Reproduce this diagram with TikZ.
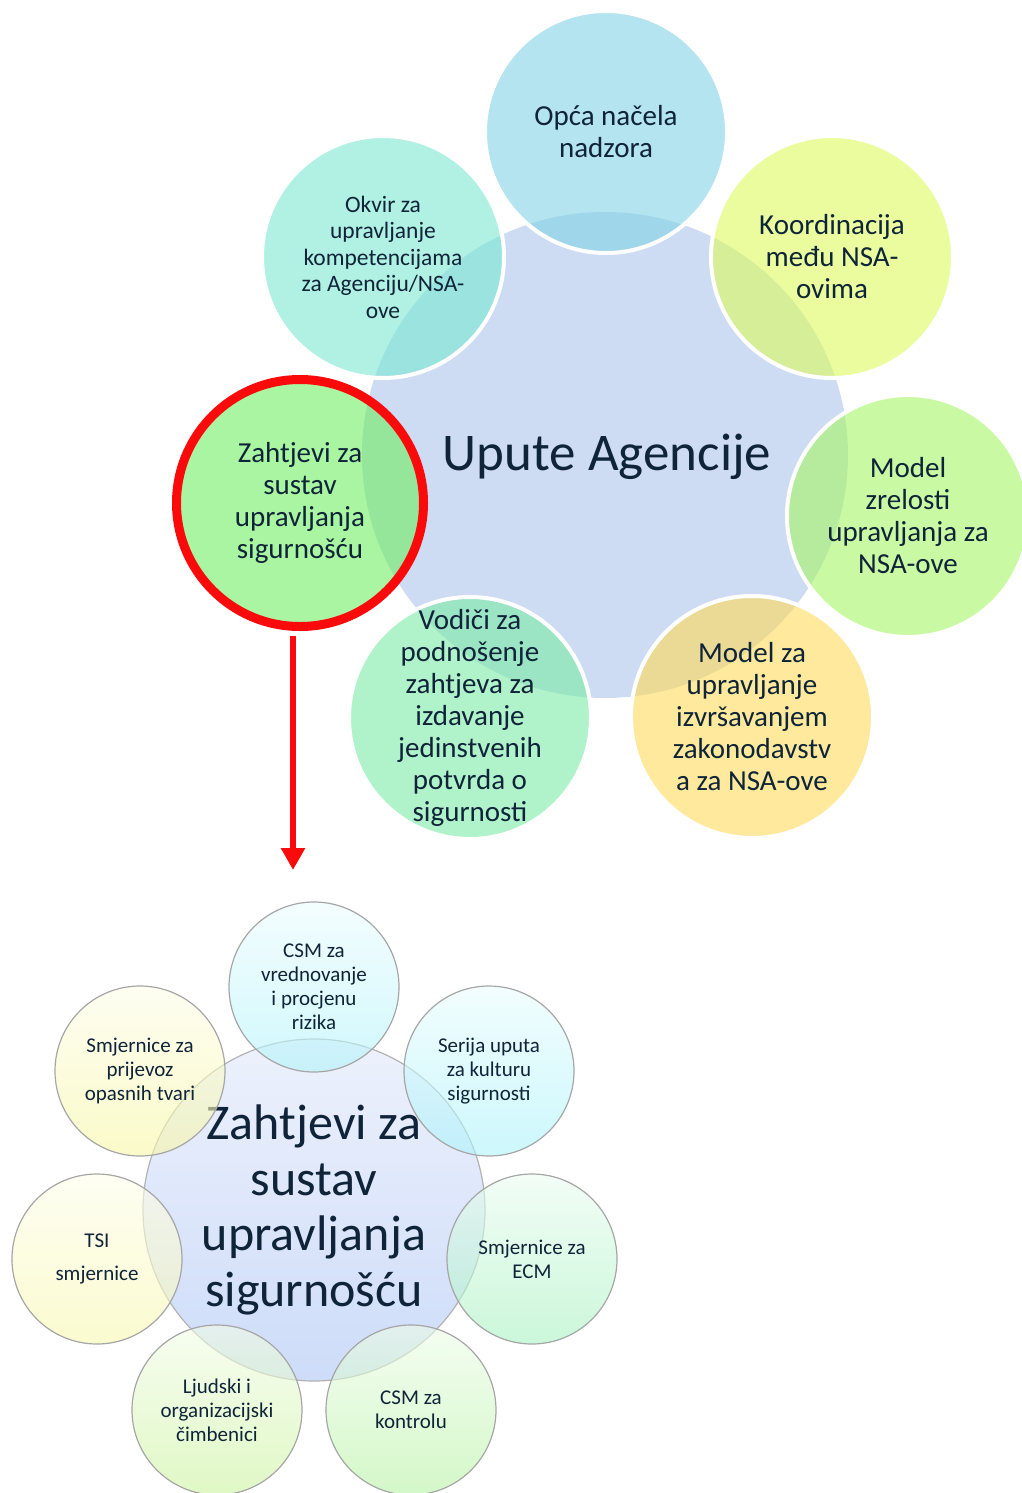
\documentclass[tikz,border=0pt]{standalone}
\usepackage{fontspec}
\setmainfont{Carlito}
\usetikzlibrary{arrows.meta}
\definecolor{txt}{HTML}{0F2438}
\definecolor{cMain}{HTML}{CDDCF2}
\definecolor{cOpca}{RGB}{130,210,230}
\definecolor{cKoord}{RGB}{222,250,93}
\definecolor{cZrel}{RGB}{167,245,103}
\definecolor{cIzvr}{RGB}{255,218,90}
\definecolor{cVod}{RGB}{123,235,167}
\definecolor{cZah}{RGB}{112,238,98}
\definecolor{cOkvir}{RGB}{123,232,210}
\definecolor{cRed}{HTML}{FA0A0A}
\definecolor{bTop}{HTML}{EDF1FC}
\definecolor{bBot}{HTML}{CDDCF9}
\definecolor{bCsm}{RGB}{177,243,250}
\definecolor{bSer}{RGB}{170,243,250}
\definecolor{bEcm}{RGB}{168,242,193}
\definecolor{bKon}{RGB}{182,243,163}
\definecolor{bLju}{RGB}{203,243,158}
\definecolor{bTsi}{RGB}{248,248,175}
\definecolor{bPri}{RGB}{247,247,165}
\tikzset{
  petal/.style={draw=white, line width=4pt, fill opacity=0.6},
  ptext/.style={text=txt, text opacity=1, align=center, font=\fontsize{29}{32}\selectfont},
  bubble/.style={draw=black!35, line width=1.2pt, fill opacity=0.6},
  btext/.style={text=txt, text opacity=1, align=center, font=\fontsize{21}{24}\selectfont}
}
\begin{document}
\begin{tikzpicture}[x=1pt,y=-1pt, line join=round, line cap=round]
\useasboundingbox (0,0) rectangle (1021,1493);
% gornji dijagram
\fill[cMain] (605,455) circle (243pt);
\node[text=txt, font=\fontsize{53}{60}\selectfont] (upute) at (607,457) {Upute Agencije};
\draw[petal, fill=cOpca] (606,132) circle (121pt) node[ptext] (opca) {Opća načela\\ nadzora};
\draw[petal, fill=cKoord] (832,257) circle (121pt) node[ptext] (koord) {Koordinacija\\ među NSA-\\ ovima};
\draw[petal, fill=cZrel] (908,516) circle (121pt) node[ptext] (zrel) {Model\\ zrelosti\\ upravljanja za\\ NSA-ove};
\draw[petal, fill=cIzvr] (752,717) circle (121pt) node[ptext] (izvr) {Model za\\ upravljanje\\ izvršavanjem\\ zakonodavstv\\ a za NSA-ove};
\draw[petal, fill=cVod] (470,718) circle (121pt) node[ptext] (vod) {Vodiči za\\ podnošenje\\ zahtjeva za\\ izdavanje\\ jedinstvenih\\ potvrda o\\ sigurnosti};
\draw[petal, fill=cOkvir] (383,257) circle (121pt) node[ptext, font=\fontsize{23.5}{26.5}\selectfont] (okvir) {Okvir za\\ upravljanje\\ kompetencijama\\ za Agenciju/NSA-\\ ove};
\draw[draw=cRed, line width=9pt, fill=cZah, fill opacity=0.6] (300,503) circle (123.5pt) node[ptext] (zsus) {Zahtjevi za\\ sustav\\ upravljanja\\ sigurnošću};
% strelica
\coordinate (arrtop) at (293,636);
\coordinate (arrbot) at (293,870);
\draw[cRed, line width=6pt, line cap=butt, -{Triangle[length=22pt,width=23pt]}] (arrtop) -- (arrbot);
% donji dijagram
\draw[draw=black!30, line width=1.2pt, top color=bTop, bottom color=bBot] (314,1210) circle (171pt) node[text=txt, align=center, font=\fontsize{50}{55.5}\selectfont] (zsms) {Zahtjevi za\\ sustav\\ upravljanja\\ sigurnošću};
\draw[bubble, top color=bCsm!25, bottom color=bCsm] (314,987) circle (85pt) node[btext] (csmv) {CSM za\\ vrednovanje\\ i procjenu\\ rizika};
\draw[bubble, top color=bSer!25, bottom color=bSer] (489,1071) circle (85pt) node[btext] (ser) {Serija uputa\\ za kulturu\\ sigurnosti};
\draw[bubble, top color=bEcm!25, bottom color=bEcm] (532,1259) circle (85pt) node[btext] (ecm) {Smjernice za\\ ECM};
\draw[bubble, top color=bKon!25, bottom color=bKon] (411,1410) circle (85pt) node[btext] (csmk) {CSM za\\ kontrolu};
\draw[bubble, top color=bLju!25, bottom color=bLju] (217,1410) circle (85pt) node[btext] (ljud) {Ljudski i\\ organizacijski\\ čimbenici};
\draw[bubble, top color=bTsi!25, bottom color=bTsi] (97,1259) circle (85pt) node[btext] (tsi) {TSI\\[9pt] smjernice};
\draw[bubble, top color=bPri!25, bottom color=bPri] (140,1071) circle (85pt) node[btext] (prij) {Smjernice za\\ prijevoz\\ opasnih tvari};
\end{tikzpicture}
\end{document}
